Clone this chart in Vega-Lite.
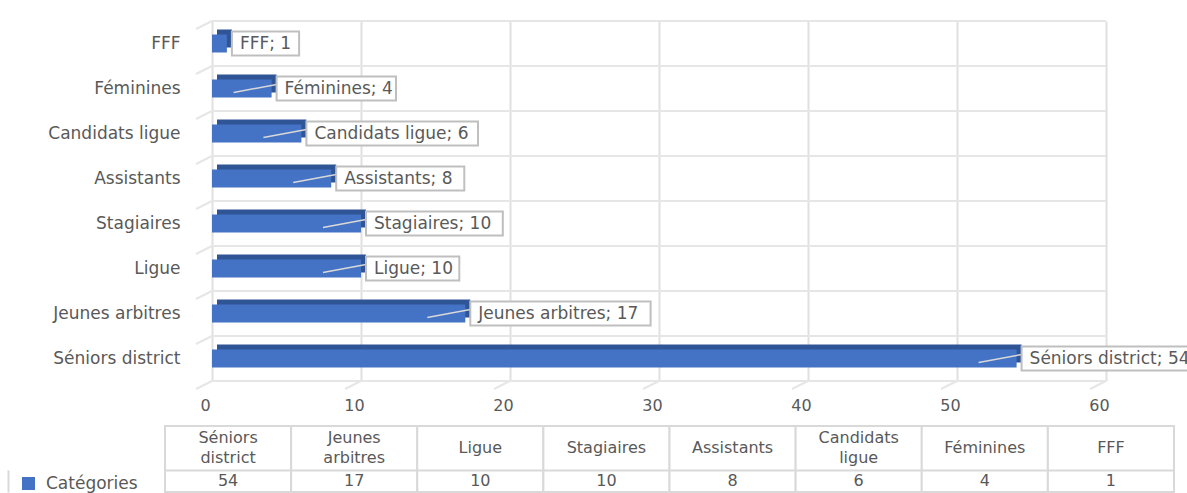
{
  "$schema": "https://vega.github.io/schema/vega-lite/v6.json",
  "padding": {"left": 8, "top": 20, "right": 0, "bottom": 0},
  "background": "white",
  "config": {
    "view": {"stroke": null},
    "font": "DejaVu Sans",
    "legend": {"labelFont": "DejaVu Sans"}
  },
  "data": {
    "values": [
      {"cat": "Séniors district", "value": 54, "head": "Séniors\ndistrict"},
      {"cat": "Jeunes arbitres", "value": 17, "head": "Jeunes\narbitres"},
      {"cat": "Ligue", "value": 10, "head": "Ligue"},
      {"cat": "Stagiaires", "value": 10, "head": "Stagiaires"},
      {"cat": "Assistants", "value": 8, "head": "Assistants"},
      {"cat": "Candidats ligue", "value": 6, "head": "Candidats\nligue"},
      {"cat": "Féminines", "value": 4, "head": "Féminines"},
      {"cat": "FFF", "value": 1, "head": "FFF"}
    ]
  },
  "spacing": 12,
  "vconcat": [
    {
      "width": 1166,
      "height": 360,
      "transform": [{"calculate": "datum.cat + '; ' + datum.value", "as": "label"}],
      "encoding": {
        "y": {
          "field": "cat",
          "type": "nominal",
          "sort": ["FFF", "Féminines", "Candidats ligue", "Assistants", "Stagiaires", "Ligue", "Jeunes arbitres", "Séniors district"],
          "scale": {"paddingInner": 0, "paddingOuter": 0},
          "axis": {"title": null, "domain": false, "ticks": false, "grid": false, "labelPadding": 0, "offset": -172, "labelFontSize": 17, "labelColor": "#595959", "labelFont": "DejaVu Sans"}
        }
      },
      "layer": [
        {
          "mark": {"type": "rule", "color": "#e6e6e6", "strokeWidth": 2, "yOffset": -22.5},
          "encoding": {
            "x": {"datum": 0, "type": "quantitative"},
            "x2": {"datum": 60}
          }
        },
        {
          "transform": [{"filter": "datum.cat == 'Séniors district'"}],
          "mark": {"type": "rule", "color": "#e6e6e6", "strokeWidth": 2, "yOffset": 22.5},
          "encoding": {
            "x": {"datum": 0, "type": "quantitative"},
            "x2": {"datum": 60}
          }
        },
        {
          "mark": {"type": "rule", "color": "#e6e6e6", "strokeWidth": 2, "xOffset": -16, "yOffset": -14.5, "x2Offset": 0, "y2Offset": -22.5},
          "encoding": {
            "x": {"datum": 0, "type": "quantitative"},
            "x2": {"datum": 0},
            "y2": {"field": "cat"}
          }
        },
        {
          "transform": [{"filter": "datum.cat == 'Séniors district'"}],
          "mark": {"type": "rule", "color": "#e6e6e6", "strokeWidth": 2, "xOffset": -16, "yOffset": 30.5, "x2Offset": 0, "y2Offset": 22.5},
          "encoding": {
            "x": {"datum": 0, "type": "quantitative"},
            "x2": {"datum": 0},
            "y2": {"field": "cat"}
          }
        },
        {
          "data": {"values": [{"tick": 10}, {"tick": 20}, {"tick": 30}, {"tick": 40}, {"tick": 50}, {"tick": 60}]},
          "mark": {"type": "rule", "color": "#e6e6e6", "strokeWidth": 2, "xOffset": -16, "yOffset": 30.5, "x2Offset": 0, "y2Offset": 22.5},
          "encoding": {
            "x": {"field": "tick", "type": "quantitative"},
            "x2": {"field": "tick"},
            "y": {"datum": "Séniors district"},
            "y2": {"datum": "Séniors district"}
          }
        },
        {
          "mark": {"type": "bar", "height": 18, "xOffset": 5, "yOffset": -5, "color": "#2F5597"},
          "encoding": {
            "x": {
              "field": "value",
              "type": "quantitative",
              "scale": {"domain": [0, 60], "range": [204, 1098], "nice": false},
              "axis": {"title": null, "values": [0, 10, 20, 30, 40, 50, 60], "domain": false, "ticks": false, "grid": true, "gridColor": "#e0e0e0", "gridWidth": 2, "labelPadding": 16, "labelOffset": -7, "labelFontSize": 16, "labelColor": "#595959", "labelFlush": false, "labelFont": "DejaVu Sans"}
            }
          }
        },
        {
          "mark": {"type": "bar", "height": 18},
          "encoding": {
            "x": {"field": "value", "type": "quantitative"},
            "color": {
              "datum": "Catégories",
              "type": "nominal",
              "scale": {"range": ["#4472C4"]},
              "legend": {"title": null, "orient": "none", "legendX": 12, "legendY": 454, "symbolType": "square", "symbolSize": 169, "symbolStrokeWidth": 0, "labelFontSize": 17, "labelColor": "#595959", "labelOffset": 9, "padding": 0}
            }
          }
        },
        {
          "transform": [{"filter": "datum.value >= 3"}],
          "mark": {"type": "rule", "color": "#d9d9d9", "strokeWidth": 1.5, "xOffset": -38, "x2Offset": 5, "yOffset": 4, "y2Offset": -4},
          "encoding": {
            "x": {"field": "value", "type": "quantitative"},
            "x2": {"field": "value"},
            "y2": {"field": "cat"}
          }
        },
        {
          "mark": {"type": "bar", "height": 24, "fill": "white", "stroke": "#bfbfbf", "strokeWidth": 2, "xOffset": 5, "x2Offset": {"expr": "length(datum.label) * 8.7 + 20"}},
          "encoding": {
            "x": {"field": "value", "type": "quantitative"},
            "x2": {"field": "value"}
          }
        },
        {
          "mark": {"type": "text", "align": "left", "dx": 13, "fontSize": 17, "color": "#595959", "font": "DejaVu Sans"},
          "encoding": {
            "x": {"field": "value", "type": "quantitative"},
            "text": {"field": "label"}
          }
        }
      ]
    },
    {
      "width": 1166,
      "height": 66,
      "encoding": {
        "x": {
          "field": "cat",
          "type": "nominal",
          "sort": ["Séniors district", "Jeunes arbitres", "Ligue", "Stagiaires", "Assistants", "Candidats ligue", "Féminines", "FFF"],
          "scale": {"range": [157, 1166], "paddingInner": 0, "paddingOuter": 0},
          "axis": null
        }
      },
      "layer": [
        {
          "mark": {"type": "rect", "fill": "white", "stroke": "#d9d9d9", "strokeWidth": 2},
          "encoding": {
            "y": {
              "datum": 0,
              "type": "quantitative",
              "scale": {"domain": [0, 3], "reverse": true, "nice": false},
              "axis": {"title": null, "values": [2], "grid": true, "gridColor": "#d9d9d9", "gridWidth": 2, "labels": false, "ticks": false, "domain": true, "domainColor": "#d9d9d9", "domainWidth": 2, "domainDash": [0, 44, 30, 0], "zindex": 1}
            },
            "y2": {"datum": 3}
          }
        },
        {
          "transform": [{"filter": "indexof(datum.head, '\\n') < 0"}],
          "mark": {"type": "text", "fontSize": 16, "color": "#595959", "font": "DejaVu Sans"},
          "encoding": {
            "y": {"datum": 1, "type": "quantitative"},
            "text": {"field": "head"}
          }
        },
        {
          "transform": [{"filter": "indexof(datum.head, '\\n') >= 0"}],
          "mark": {"type": "text", "fontSize": 16, "color": "#595959", "lineBreak": "\n", "lineHeight": 20, "dy": -10, "font": "DejaVu Sans"},
          "encoding": {
            "y": {"datum": 1, "type": "quantitative"},
            "text": {"field": "head"}
          }
        },
        {
          "mark": {"type": "text", "fontSize": 16, "color": "#595959", "font": "DejaVu Sans"},
          "encoding": {
            "y": {"datum": 2.5, "type": "quantitative"},
            "text": {"field": "value"}
          }
        }
      ]
    }
  ]
}
